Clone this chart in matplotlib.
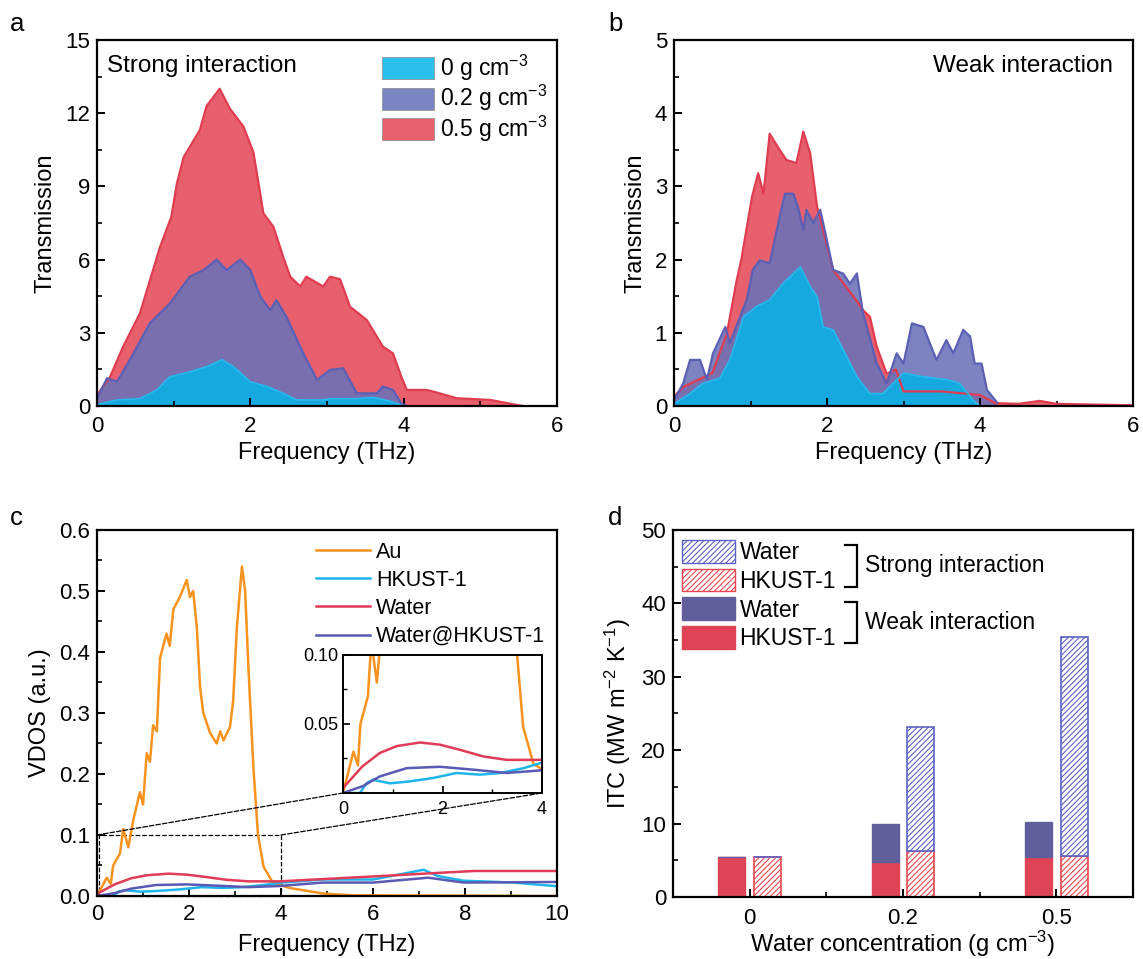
import numpy as np
import matplotlib
matplotlib.use('Agg')
import matplotlib.pyplot as plt
from matplotlib.patches import Patch, Rectangle, ConnectionPatch

plt.rcParams['font.family'] = ['Liberation Sans', 'DejaVu Sans']
plt.rcParams['mathtext.fontset'] = 'custom'
plt.rcParams['mathtext.rm'] = 'Liberation Sans'
plt.rcParams['mathtext.it'] = 'Liberation Sans:italic'
plt.rcParams['axes.linewidth'] = 1.6
plt.rcParams['hatch.linewidth'] = 0.8

# ---- panel a: strong interaction transmission ----
a_x0 = [0, 0.26, 0.56, 0.78, 0.95, 1.21, 1.43, 1.63, 1.78, 2.0, 2.22, 2.43, 2.6, 2.95, 3.04, 3.39, 3.6, 3.82, 4.0]
a_y0 = [0.05, 0.25, 0.3, 0.66, 1.2, 1.4, 1.61, 1.9, 1.61, 0.99, 0.8, 0.52, 0.25, 0.25, 0.3, 0.3, 0.35, 0.2, 0.0]
a_x2 = [0, 0.13, 0.26, 0.43, 0.69, 0.95, 1.21, 1.39, 1.56, 1.69, 1.87, 2.0, 2.13, 2.26, 2.34, 2.47,
        2.69, 2.87, 3.04, 3.21, 3.39, 3.65, 3.73, 3.86, 3.97, 4.04]
a_y2 = [0.3, 1.14, 1.0, 1.9, 3.4, 4.2, 5.3, 5.57, 6.0, 5.57, 6.0, 5.57, 4.48, 3.93, 4.34, 3.66,
        2.16, 1.07, 1.48, 1.55, 0.52, 0.52, 0.8, 0.66, 0.1, 0.0]
a_x5 = [0, 0.17, 0.34, 0.56, 0.82, 0.97, 1.04, 1.13, 1.34, 1.43, 1.6, 1.73, 1.91, 2.04, 2.17, 2.3,
        2.43, 2.52, 2.65, 2.73, 2.95, 3.04, 3.17, 3.3, 3.52, 3.73, 3.86, 3.97, 4.04, 4.3, 4.47,
        4.69, 5.13, 5.47, 5.56]
a_y5 = [0.45, 1.2, 2.43, 3.8, 6.5, 7.76, 9.1, 10.2, 11.3, 12.3, 13.0, 12.2, 11.45, 10.4, 7.9, 7.35,
        6.1, 5.3, 4.9, 5.3, 4.9, 5.3, 5.2, 4.07, 3.52, 2.43, 2.16, 1.2, 0.66, 0.66, 0.52,
        0.32, 0.25, 0.05, 0.0]

# ---- panel b: weak interaction transmission ----
b_x0 = [0, 0.21, 0.38, 0.6, 0.73, 0.91, 1.08, 1.25, 1.43, 1.65, 1.78, 1.87, 1.95, 2.08, 2.21, 2.39,
        2.56, 2.73, 3.0, 3.26, 3.56, 3.73, 3.91, 4.0]
b_y0 = [0.03, 0.17, 0.31, 0.38, 0.63, 1.22, 1.36, 1.45, 1.68, 1.9, 1.63, 1.49, 1.08, 1.04, 0.77, 0.4,
        0.17, 0.17, 0.45, 0.4, 0.36, 0.31, 0.08, 0.0]
b_x2 = [0, 0.12, 0.21, 0.34, 0.43, 0.51, 0.67, 0.73, 0.95, 1.03, 1.12, 1.25, 1.39, 1.45, 1.56, 1.62,
        1.69, 1.73, 1.82, 1.91, 1.97, 2.08, 2.21, 2.3, 2.39, 2.47, 2.65, 2.78, 2.91, 3.0, 3.11,
        3.26, 3.43, 3.56, 3.65, 3.78, 3.87, 3.93, 4.02, 4.09, 4.22]
b_y2 = [0.08, 0.31, 0.63, 0.63, 0.36, 0.72, 1.08, 0.86, 1.45, 1.86, 1.99, 1.95, 2.63, 2.9, 2.9, 2.72,
        2.4, 2.68, 2.5, 2.68, 2.4, 1.86, 1.81, 1.67, 1.81, 1.27, 0.58, 0.31, 0.72, 0.58, 1.13,
        1.08, 0.63, 0.9, 0.72, 1.04, 0.95, 0.58, 0.58, 0.22, 0.05]
b_x5 = [0, 0.12, 0.3, 0.5, 0.69, 0.82, 0.88, 1.02, 1.1, 1.17, 1.25, 1.38, 1.47, 1.6, 1.69, 1.78,
        1.87, 1.95, 2.08, 2.35, 2.47, 2.56, 2.65, 2.78, 2.9, 3.0, 3.5, 4.0, 4.2, 4.5, 4.78, 5.0, 5.5, 6.0]
b_y5 = [0.13, 0.26, 0.35, 0.45, 0.99, 1.72, 2.0, 2.86, 3.18, 2.9, 3.72, 3.5, 3.36, 3.32, 3.75, 3.45,
        2.72, 2.4, 1.86, 1.49, 1.31, 1.22, 0.81, 0.44, 0.5, 0.2, 0.2, 0.15, 0.04, 0.03, 0.07, 0.03, 0.02, 0.01]

# ---- panel c: VDOS ----
au_x = [0, 0.21, 0.3, 0.35, 0.5, 0.57, 0.68, 0.79, 0.93, 1.0, 1.08, 1.15, 1.22, 1.3, 1.37, 1.51, 1.58,
        1.66, 1.8, 1.95, 2.02, 2.09, 2.17, 2.24, 2.31, 2.4, 2.46, 2.6, 2.68, 2.75, 2.89, 2.96, 3.04, 3.15,
        3.22, 3.29, 3.4, 3.5, 3.62, 3.83, 4.2, 4.92, 5.6, 10.0]
au_y = [0.0, 0.03, 0.02, 0.05, 0.07, 0.11, 0.08, 0.125, 0.17, 0.15, 0.234, 0.22, 0.28, 0.27, 0.39, 0.43, 0.41,
        0.47, 0.49, 0.518, 0.49, 0.50, 0.44, 0.343, 0.30, 0.28, 0.267, 0.25, 0.27, 0.255, 0.277, 0.32, 0.44, 0.54,
        0.50, 0.376, 0.21, 0.10, 0.048, 0.021, 0.013, 0.004, 0.001, 0.0]
hk_x = [0, 0.34, 0.47, 0.6, 0.94, 1.34, 1.8, 2.28, 2.75, 3.16, 3.63, 3.97, 4.92, 6.0, 7.1, 7.4, 7.97, 9.06, 10.0]
hk_y = [0.0, 0.0, 0.007, 0.0096, 0.007, 0.0084, 0.0108, 0.0145, 0.0133, 0.0145, 0.018, 0.0217, 0.027,
        0.027, 0.043, 0.033, 0.025, 0.022, 0.016]
wa_x = [0, 0.39, 0.74, 1.08, 1.55, 1.95, 2.35, 2.82, 3.29, 3.97, 6.0, 7.2, 8.2, 10.0]
wa_y = [0.0036, 0.0193, 0.029, 0.034, 0.0366, 0.035, 0.0313, 0.0265, 0.024, 0.024, 0.032, 0.037, 0.041, 0.041]
wh_x = [0, 0.4, 0.74, 1.28, 1.95, 2.62, 3.29, 3.97, 4.9, 6.0, 7.2, 7.97, 10.0]
wh_y = [0.0, 0.005, 0.012, 0.018, 0.019, 0.0169, 0.0145, 0.0164, 0.022, 0.022, 0.03, 0.022, 0.023]

# ---- panel d: ITC ----
conc_labels = ['0', '0.2', '0.5']
weak_hkust = [5.4, 4.8, 5.4]
weak_total = [5.4, 9.9, 10.2]
strong_hkust = [5.4, 6.2, 5.6]
strong_total = [5.4, 23.1, 35.4]

c_red_fill = '#e8606e'
c_red_edge = '#e03c50'
c_pur_fill = '#6a72b8'
c_pur_edge = '#5a5fb5'
c_cy_fill = '#16a9e0'
c_cy_edge = '#22bdf0'

fig = plt.figure(figsize=(11.43, 9.59), dpi=100)
ax_a = fig.add_axes([0.0849, 0.5766, 0.4024, 0.3817])
ax_b = fig.add_axes([0.5897, 0.5766, 0.4016, 0.3817])
ax_c = fig.add_axes([0.0849, 0.0657, 0.4024, 0.3817])
ax_d = fig.add_axes([0.5888, 0.0647, 0.4024, 0.3827])

fs_tick = 16
fs_lab = 17
fs_txt = 16.5


def style(ax, xpad=6):
    ax.tick_params(direction='in', which='major', length=6, width=1.4, labelsize=fs_tick,
                   top=False, right=False)
    ax.tick_params(direction='in', which='minor', length=3.5, width=1.2, top=False, right=False)
    ax.tick_params(axis='x', which='major', pad=xpad)
    ax.tick_params(axis='y', which='major', pad=5)


for ax, xs, ys in [(ax_a, (a_x5, a_x2, a_x0), (a_y5, a_y2, a_y0)),
                   (ax_b, (b_x5, b_x2, b_x0), (b_y5, b_y2, b_y0))]:
    ax.fill_between(xs[0], 0, ys[0], color=c_red_fill, lw=0)
    ax.plot(xs[0], ys[0], color=c_red_edge, lw=1.6)
    ax.fill_between(xs[1], 0, ys[1], color=c_pur_fill, alpha=0.88, lw=0)
    ax.plot(xs[1], ys[1], color=c_pur_edge, lw=1.6)
    ax.fill_between(xs[2], 0, ys[2], color=c_cy_fill, lw=0)
    ax.plot(xs[2], ys[2], color=c_cy_edge, lw=1.2)
    ax.set_xlim(0, 6)
    ax.set_xticks([0, 2, 4, 6])
    ax.set_xticks([1, 3, 5], minor=True)
    ax.set_xlabel('Frequency (THz)', fontsize=fs_lab, labelpad=4)
    ax.set_ylabel('Transmission', fontsize=fs_lab, labelpad=6)
    style(ax, xpad=7)

ax_a.set_ylim(0, 15)
ax_a.set_yticks([0, 3, 6, 9, 12, 15])
ax_a.set_yticks([1.5, 4.5, 7.5, 10.5, 13.5], minor=True)
ax_a.text(0.022, 0.93, 'Strong interaction', transform=ax_a.transAxes, fontsize=17.5, va='center')
leg_a = [Patch(facecolor='#2cc0ec', edgecolor='#888888', lw=0.5, label='0 g cm$^{-3}$'),
         Patch(facecolor='#7b85c4', edgecolor='#888888', lw=0.5, label='0.2 g cm$^{-3}$'),
         Patch(facecolor='#e6636f', edgecolor='#888888', lw=0.5, label='0.5 g cm$^{-3}$')]
ax_a.legend(handles=leg_a, loc='upper right', bbox_to_anchor=(1.012, 1.005), frameon=False, fontsize=fs_txt,
            handlelength=2.3, handleheight=1.1, labelspacing=0.0, handletextpad=0.25, borderaxespad=0.25)

ax_b.set_ylim(0, 5)
ax_b.set_yticks([0, 1, 2, 3, 4, 5])
ax_b.set_yticks([0.5, 1.5, 2.5, 3.5, 4.5], minor=True)
ax_b.text(0.956, 0.93, 'Weak interaction', transform=ax_b.transAxes, fontsize=17.5, va='center', ha='right')

# panel c
lines_c = [(au_x, au_y, '#f7931e', 'Au'), (hk_x, hk_y, '#1fb4ea', 'HKUST-1'),
           (wa_x, wa_y, '#e03c58', 'Water'), (wh_x, wh_y, '#5a5ab4', 'Water@HKUST-1')]
for x, y, c, lab in lines_c:
    ax_c.plot(x, y, color=c, lw=1.8, label=lab)
ax_c.set_xlim(0, 10)
ax_c.set_ylim(0, 0.6)
ax_c.set_xticks([0, 2, 4, 6, 8, 10])
ax_c.set_xticks([1, 3, 5, 7, 9], minor=True)
ax_c.set_yticks([0, 0.1, 0.2, 0.3, 0.4, 0.5, 0.6])
ax_c.set_yticks([0.05, 0.15, 0.25, 0.35, 0.45, 0.55], minor=True)
ax_c.set_yticklabels(['0.0', '0.1', '0.2', '0.3', '0.4', '0.5', '0.6'])
ax_c.set_xlabel('Frequency (THz)', fontsize=fs_lab, labelpad=6)
ax_c.set_ylabel('VDOS (a.u.)', fontsize=fs_lab, labelpad=6)
style(ax_c, xpad=6)
ax_c.legend(loc='upper right', bbox_to_anchor=(1.0, 1.0), frameon=False, fontsize=15.5,
            handlelength=2.5, labelspacing=0.33, handletextpad=0.3, borderaxespad=0.15)
ax_c.add_patch(Rectangle((0.05, 0), 3.95, 0.1, fill=False, ls='--', lw=0.9, color='black', clip_on=False))

ax_in = fig.add_axes([0.3001, 0.1731, 0.1741, 0.1439])
for x, y, c, lab in lines_c:
    ax_in.plot(x, y, color=c, lw=1.8)
ax_in.set_xlim(0, 4)
ax_in.set_ylim(0, 0.1)
ax_in.set_xticks([0, 2, 4])
ax_in.set_xticks([1, 3], minor=True)
ax_in.set_yticks([0.05, 0.10])
ax_in.set_yticks([0.025, 0.075], minor=True)
ax_in.set_yticklabels(['0.05', '0.10'])
ax_in.tick_params(direction='in', which='major', length=5, width=1.2, labelsize=13, top=False, right=False)
ax_in.tick_params(direction='in', which='minor', length=3, width=1.0, top=False, right=False)
ax_in.tick_params(axis='x', which='major', pad=6)
for sp in ax_in.spines.values():
    sp.set_linewidth(1.4)
for xa, xb in [(0, 0), (4, 4)]:
    con = ConnectionPatch(xyA=(xa, 0.1), coordsA=ax_c.transData, xyB=(xb, 0), coordsB=ax_in.transData,
                          ls='--', lw=0.9, color='black')
    fig.add_artist(con)

# panel d
pos = np.arange(1, 4)
w = 0.176
off = 0.117
weak_water = np.array(weak_total) - np.array(weak_hkust)
strong_water = np.array(strong_total) - np.array(strong_hkust)
ax_d.bar(pos - off, weak_hkust, w, color='#de4455', edgecolor='#de4455', lw=1)
ax_d.bar(pos - off, weak_water, w, bottom=weak_hkust, color='#615f9b', edgecolor='#615f9b', lw=1)
ax_d.bar(pos + off, strong_hkust, w, facecolor='white', edgecolor='#e8474f', hatch='//////', lw=1.2)
ax_d.bar(pos + off, strong_water, w, bottom=strong_hkust, facecolor='white', edgecolor='#5c62c4',
         hatch='//////', lw=1.2)
ax_d.set_xlim(0.5, 3.5)
ax_d.set_ylim(0, 50)
ax_d.set_xticks(pos)
ax_d.set_xticklabels(conc_labels)
ax_d.set_xticks([1.5, 2.5], minor=True)
ax_d.set_yticks([0, 10, 20, 30, 40, 50])
ax_d.set_yticks([5, 15, 25, 35, 45], minor=True)
ax_d.set_xlabel('Water concentration (g cm$^{-3}$)', fontsize=fs_lab, labelpad=0)
ax_d.set_ylabel('ITC (MW m$^{-2}$ K$^{-1}$)', fontsize=fs_lab, labelpad=6)
style(ax_d, xpad=8)
leg_d = [Patch(facecolor='white', edgecolor='#5c62c4', hatch='//////', label='Water'),
         Patch(facecolor='white', edgecolor='#e8474f', hatch='//////', label='HKUST-1'),
         Patch(facecolor='#615f9b', edgecolor='#615f9b', label='Water'),
         Patch(facecolor='#de4455', edgecolor='#de4455', label='HKUST-1')]
ax_d.legend(handles=leg_d, loc='upper left', bbox_to_anchor=(-0.01, 1.01), frameon=False, fontsize=fs_txt,
            handlelength=2.3, handleheight=1.15, labelspacing=0.2, handletextpad=0.2, borderaxespad=0.2)
for y_top, y_bot, txt in [(0.959, 0.845, 'Strong interaction'), (0.804, 0.692, 'Weak interaction')]:
    ax_d.plot([0.374, 0.4, 0.4, 0.374], [y_top, y_top, y_bot, y_bot], color='black', lw=1.6,
              transform=ax_d.transAxes, solid_joinstyle='miter')
    ax_d.text(0.418, (y_top + y_bot) / 2, txt, transform=ax_d.transAxes, fontsize=fs_txt, va='center')

for x, y, s in [(0.009, 0.968, 'a'), (0.532, 0.968, 'b'), (0.009, 0.4526, 'c'), (0.532, 0.4526, 'd')]:
    fig.text(x, y, s, fontsize=18.5, va='baseline')

fig.savefig('out.png', dpi=100)
